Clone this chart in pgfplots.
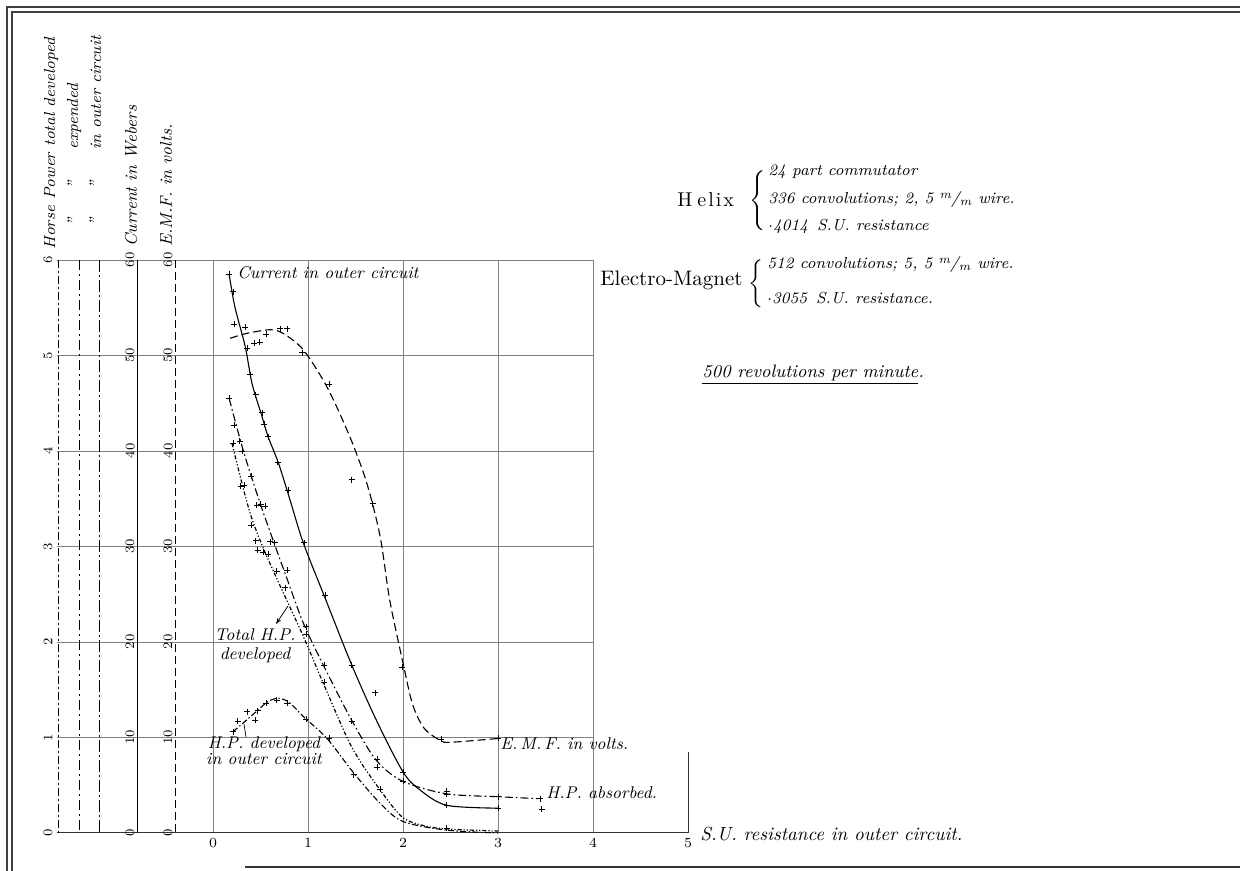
\documentclass[border=0pt]{standalone}
\usepackage{fontspec}
\usepackage{pgfplots}
\pgfplotsset{compat=1.18}
\usetikzlibrary{arrows.meta}
\tikzset{gridst/.style={line width=0.35pt, black!50}}

\newcommand\lab{\fontsize{8.5}{9.5}\selectfont\itshape}
\newcommand\labs{\fontsize{8}{9}\selectfont\itshape}
\newcommand\labb{\fontsize{8.5}{9.5}\selectfont\itshape}
\newcommand\tk{\fontsize{6.5}{7}\selectfont}

\begin{document}
\begin{tikzpicture}
\begin{axis}[
  x=47.5pt, y=47.75pt,
  xmin=-1.642, xmax=5, ymin=0, ymax=6,
  axis line style={draw=none},
  xtick={0,1,2,3,4,5}, ytick=\empty,
  major tick length=0pt,
  xticklabel style={font=\fontsize{7.5}{8}\selectfont, inner sep=1.5pt, yshift=-1pt},
  clip=false,
]
% grid
\pgfplotsinvokeforeach{1,...,6}{\draw[gridst] (axis cs:-1.642,#1) -- (axis cs:4,#1);}
\pgfplotsinvokeforeach{0,...,4}{\draw[gridst] (axis cs:#1,0) -- (axis cs:#1,6);}
\draw[line width=0.5pt, black!80] (axis cs:-1.642,0) -- (axis cs:5,0);
\draw[line width=0.5pt, black!80] (axis cs:5,0) -- (axis cs:5,0.85);

% Current in outer circuit (Webers)
\addplot[smooth, black, line width=0.55pt, y filter/.expression={y/10}] coordinates {
(0.17,58.5) (0.23,55.1) (0.34,50.9) (0.41,47.1) (0.51,43.8) (0.58,41.5)
(0.69,38.7) (0.81,34.9) (0.95,30.4) (1.18,24.6) (1.46,17.6) (1.72,11.8)
(2.0,6.4) (2.18,4.5) (2.46,2.9) (3.0,2.6)};

% E.M.F. in volts
\addplot[smooth, black, line width=0.55pt, dash pattern=on 4pt off 2pt, y filter/.expression={y/10}] coordinates {
(0.18,51.8) (0.35,52.3) (0.6,52.7) (0.74,52.3) (0.95,50.6) (1.2,46.7)
(1.44,41.5) (1.62,36.6) (1.76,31.0) (1.86,24.4) (2.0,17.8) (2.1,13.5)
(2.22,11.0) (2.39,9.7) (2.5,9.5) (3.0,9.9)};

% H.P. absorbed (expended)
\addplot[smooth, black, line width=0.55pt, dash pattern=on 4pt off 1.5pt on 0.8pt off 1.5pt] coordinates {
(0.17,4.55) (0.32,4.0) (0.48,3.50) (0.62,3.1) (0.78,2.66) (0.95,2.2)
(1.16,1.76) (1.46,1.18) (1.72,0.76) (2.0,0.54) (2.46,0.41) (3.0,0.38) (3.42,0.36)};

% Total H.P. developed
\addplot[smooth, black, line width=0.6pt, dash pattern=on 2pt off 1pt on 0.6pt off 1pt on 0.6pt off 1pt] coordinates {
(0.20,4.08) (0.30,3.68) (0.40,3.32) (0.53,2.98) (0.71,2.58) (0.95,2.06)
(1.16,1.57) (1.46,0.90) (1.76,0.45) (2.0,0.16) (2.25,0.07) (2.5,0.04) (3.0,0.02)};

% H.P. developed in outer circuit
\addplot[smooth, black, line width=0.55pt, dash pattern=on 3pt off 1.2pt on 0.7pt off 1.2pt] coordinates {
(0.21,1.06) (0.42,1.24) (0.57,1.37) (0.68,1.41) (0.80,1.37) (0.95,1.22)
(1.20,0.99) (1.48,0.63) (1.76,0.31) (2.0,0.12) (2.46,0.03) (3.0,0.0)};

% observations
\addplot[only marks, mark=+, mark size=1.5pt, black, line width=0.3pt] coordinates {
(0.17,5.85) (0.21,5.67) (0.22,5.33) (0.34,5.30) (0.36,5.08) (0.43,5.13)
(0.49,5.14) (0.56,5.22) (0.71,5.28) (0.78,5.28) (0.39,4.80) (0.45,4.59)
(0.52,4.40) (0.54,4.28) (0.58,4.15) (0.68,3.88) (0.79,3.59) (0.94,5.03)
(1.22,4.70) (1.46,3.70) (1.68,3.45) (0.17,4.55) (0.22,4.27) (0.21,4.08)
(0.28,4.10) (0.31,4.0) (0.29,3.63) (0.33,3.64) (0.40,3.74) (0.46,3.43)
(0.50,3.44) (0.55,3.42) (0.40,3.22) (0.45,3.06) (0.47,2.96) (0.53,2.94)
(0.58,2.92) (0.60,3.05) (0.65,3.04) (0.67,2.74) (0.78,2.75) (0.76,2.57)
(0.96,3.04) (1.18,2.49) (0.98,2.16) (0.98,2.08) (1.17,1.76) (1.17,1.58)
(1.46,1.76) (1.71,1.47) (1.46,1.17) (1.73,0.77) (1.73,0.69) (1.48,0.61)
(1.76,0.46) (2.0,0.64) (2.0,0.54) (1.99,1.74) (2.46,0.44) (2.46,0.41)
(2.46,0.29) (2.46,0.05) (3.0,0.38) (3.0,0.26) (3.0,0.99) (2.40,0.98)
(3.44,0.36) (3.46,0.25) (0.21,1.06) (0.26,1.17) (0.36,1.27) (0.44,1.18)
(0.47,1.28) (0.56,1.36) (0.67,1.39) (0.78,1.36) (0.98,1.19) (1.22,0.99)};

\coordinate (O) at (axis cs:0,0);
\end{axis}

\begin{scope}[shift={(O)}]
\begin{scope}[x=0.5pt, y=-0.5pt, xshift=-106.5pt, yshift=416.5pt]
% frame
\draw[line width=0.8pt, black!75] (7,871) -- (7,7) -- (1240,7);
\draw[line width=0.6pt, black!75] (12,871) -- (12,12) -- (1240,12);
\draw[line width=1.2pt, black!80] (245,867) -- (1240,867);

% left axes
\draw[line width=0.45pt, dash pattern=on 4pt off 1.5pt on 1pt off 1.5pt] (58,260) -- (58,833);
\draw[line width=0.45pt, dash pattern=on 5pt off 2pt on 1pt off 2pt] (79,260) -- (79,833);
\draw[line width=0.45pt, dash pattern=on 6pt off 1.5pt on 1pt off 1.5pt] (99,260) -- (99,833);
\draw[line width=0.45pt] (137,260) -- (137,833);
\draw[line width=0.45pt, dash pattern=on 4pt off 2pt] (175,260) -- (175,833);
\foreach \i in {0,...,6}{
  \node[rotate=90, font=\tk, inner sep=0] at (48,{833-95.5*\i}) {\i};
  \pgfmathtruncatemacro\v{10*\i}
  \node[rotate=90, font=\tk, inner sep=0] at (130,{833-95.5*\i}) {\v};
  \node[rotate=90, font=\tk, inner sep=0] at (168,{833-95.5*\i}) {\v};
}
\node[rotate=90, anchor=west, inner sep=0, font=\labs] at (51,250) {Horse Power total developed};
\node[rotate=90, inner sep=0, font=\labs] at (73,222) {''};
\node[rotate=90, inner sep=0, font=\labs] at (73,185) {''};
\node[rotate=90, anchor=west, inner sep=0, font=\labs] at (74,150) {expended};
\node[rotate=90, inner sep=0, font=\labs] at (95,222) {''};
\node[rotate=90, inner sep=0, font=\labs] at (95,185) {''};
\node[rotate=90, anchor=west, inner sep=0, font=\labs] at (96,150) {in outer circuit};
\node[rotate=90, anchor=west, inner sep=0, font=\labb] at (131,247) {Current in Webers};
\node[rotate=90, anchor=west, inner sep=0, font=\labb] at (166,247) {E.M.F. in volts.};

% curve labels
\node[anchor=west, inner sep=0, font=\lab] at (237,273) {Current in outer circuit};
\node[align=center, inner sep=0, font=\lab] at (255,646) {Total H.P.\\developed};
\draw[-{Stealth[length=3pt,width=2pt]}, line width=0.35pt] (288,606) -- (276,624);
\node[align=center, inner sep=0, font=\fontsize{8.5}{8}\selectfont\itshape] at (264,751) {H.P. developed\\in outer circuit};
\draw[line width=0.35pt] (246,737) -- (244,724);
\node[anchor=west, inner sep=0, font=\labb] at (500,744) {E.\,M.\,F. in volts.};
\node[anchor=west, inner sep=0, font=\labb] at (546,793) {H.P. absorbed.};
\node[anchor=west, inner sep=0, font=\fontsize{9.5}{10}\selectfont\itshape] at (700,834) {S.U. resistance in outer circuit.};

% right text block
\node[anchor=west, inner sep=0, font=\fontsize{10}{11}\selectfont] at (677,200) {H\hspace{2.5pt}e\hspace{1pt}l\hspace{1pt}i\hspace{1pt}x};
\node[inner sep=0] at (759,201) {$\left\{\vcenter{\hbox{\rule{0pt}{33pt}}}\right.$};
\node[anchor=base west, inner sep=0, font=\labs] at (768,176) {24 part commutator};
\node[anchor=base west, inner sep=0, font=\labs] at (768,204) {336 convolutions; 2, 5 \textsuperscript{m}\kern-0.5pt/\textsubscript{m} wire.};
\node[anchor=base west, inner sep=0, font=\labs] at (768,231) {$\cdot$4014 \,S.U. resistance};
\node[anchor=west, inner sep=0, font=\fontsize{10.5}{11}\selectfont] at (600,280) {\addfontfeature{LetterSpace=6}Electro-Magnet};
\node[inner sep=0] at (757,284) {$\left\{\vcenter{\hbox{\rule{0pt}{26pt}}}\right.$};
\node[anchor=base west, inner sep=0, font=\labs] at (767,269) {512 convolutions; 5, 5 \textsuperscript{m}\kern-0.5pt/\textsubscript{m} wire.};
\node[anchor=base west, inner sep=0, font=\labs] at (767,304) {$\cdot$3055 \,S.U. resistance.};
\node[anchor=west, inner sep=0, font=\fontsize{9}{10}\selectfont\itshape] at (702,375) {\underline{500 revolutions per minute}.};

\pgfresetboundingbox
\path[use as bounding box] (0,0) rectangle (1240,871);
\end{scope}
\end{scope}
\end{tikzpicture}
\end{document}
